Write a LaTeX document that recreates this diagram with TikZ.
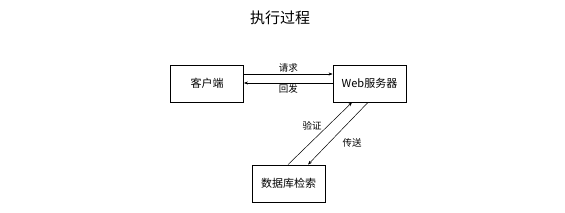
\documentclass[tikz,border=0pt]{standalone}
\usepackage{fontspec}
\newfontfamily\cjk{Noto Sans CJK SC}
\usetikzlibrary{arrows.meta}
\begin{document}
\begin{tikzpicture}[x=1pt,y=-1pt,
  box/.style={draw,line width=0.8pt,minimum width=73pt,minimum height=37pt,inner sep=0pt,font=\cjk\fontsize{11}{13}\selectfont},
  lbl/.style={font=\cjk\fontsize{9.5}{11}\selectfont,inner sep=1pt},
  arr/.style={line width=0.5pt,-{Stealth[length=4pt,width=3pt]}}]
\useasboundingbox (0,0) rectangle (565,212);
\node[font=\cjk\fontsize{15}{17}\selectfont] (title) at (280,18) {执行过程};
\node[box] (client) at (207,83.5) {客户端};
\node[box] (web) at (369.5,83.5) {Web服务器};
\node[box] (db) at (288.5,183.5) {数据库检索};
\coordinate (c1) at (client.east |- 0,74);
\coordinate (w1) at (web.west |- 0,74);
\coordinate (c2) at (client.east |- 0,83);
\coordinate (w2) at (web.west |- 0,83);
\draw[arr] (c1) -- node[lbl,above] {请求} (w1);
\draw[arr] (w2) -- node[lbl,below] {回发} (c2);
\coordinate (d1) at (db.north -| 288,0);
\coordinate (v1) at (web.south -| 352,0);
\coordinate (v2) at (web.south -| 368,0);
\coordinate (d2) at (db.north -| 308,0);
\draw[arr] (d1) -- (v1);
\draw[arr] (v2) -- (d2);
\node[lbl] (yz) at (312,126) {验证};
\node[lbl] (cs) at (352,143) {传送};
\end{tikzpicture}
\end{document}
